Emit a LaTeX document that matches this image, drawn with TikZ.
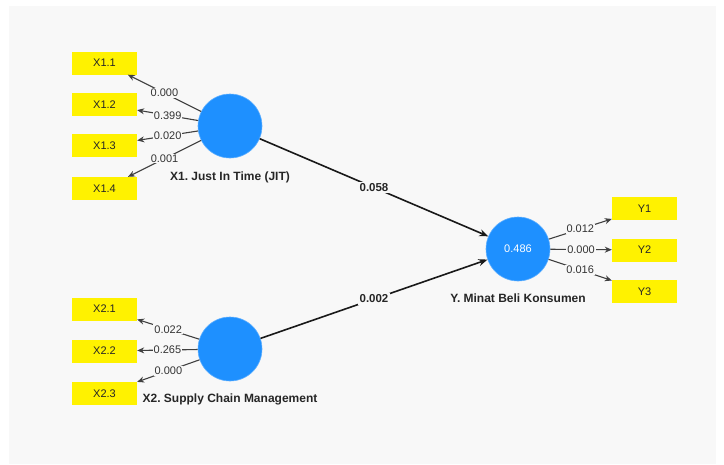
\documentclass[tikz,border=0pt]{standalone}
\usepackage{fontspec}
\setmainfont{Liberation Sans}
\usetikzlibrary{arrows.meta}
\definecolor{panel}{HTML}{F8F8F8}
\definecolor{lv}{HTML}{1E90FF}
\frenchspacing
\begin{document}
\begin{tikzpicture}[x=1pt,y=-1pt,
 lvnode/.style={circle,fill=lv,draw=lv!70!white,line width=0.6pt,minimum size=64pt,inner sep=0pt},
 ind/.style={fill=yellow,minimum width=65pt,minimum height=23pt,inner sep=0pt,font=\fontsize{11}{13}\selectfont,text=black!85},
 load/.style={draw=black!75,line width=1.1pt,-{Stealth[length=7pt,width=6pt]}},
 loadlbl/.style={fill=panel,inner sep=1pt,font=\fontsize{11}{13}\selectfont,text=black!80,midway},
 pathline/.style={draw=black!90,line width=1.6pt,-{Stealth[length=9pt,width=7pt]}},
 pathlbl/.style={fill=panel,inner sep=1.5pt,font=\bfseries\fontsize{11.5}{13}\selectfont,text=black!85,midway},
 lvlbl/.style={font=\bfseries\fontsize{12}{14}\selectfont,text=black!85}]
\useasboundingbox (0,0) rectangle (724,464);
\fill[white] (0,0) rectangle (724,464);
\fill[panel] (9,6) rectangle (716,464);
% latent variables
\node[lvnode] (x1) at (230,126) {};
\node[lvnode] (x2) at (230,349) {};
\node[lvnode,text=white,font=\fontsize{11}{13}\selectfont] (y) at (518,249) {0.486};
\node[lvlbl] (x1l) at (230,177) {X1. Just In Time (JIT)};
\node[lvlbl] (x2l) at (230,399) {X2. Supply Chain Management};
\node[lvlbl] (yl) at (518,298) {Y. Minat Beli Konsumen};
% indicators
\node[ind] (x11) at (104.5,63) {X1.1};
\node[ind] (x12) at (104.5,104.5) {X1.2};
\node[ind] (x13) at (104.5,145.5) {X1.3};
\node[ind] (x14) at (104.5,188.5) {X1.4};
\node[ind] (x21) at (104.5,309) {X2.1};
\node[ind] (x22) at (104.5,351) {X2.2};
\node[ind] (x23) at (104.5,393.5) {X2.3};
\node[ind] (y1) at (644.5,208.5) {Y1};
\node[ind] (y2) at (644.5,250) {Y2};
\node[ind] (y3) at (644.5,291.5) {Y3};
% loadings
\draw[load] (x1) -- node[loadlbl]{0.000} (x11);
\draw[load] (x1) -- node[loadlbl]{0.399} (x12);
\draw[load] (x1) -- node[loadlbl]{0.020} (x13);
\draw[load] (x1) -- node[loadlbl]{0.001} (x14);
\draw[load] (x2) -- node[loadlbl]{0.022} (x21);
\draw[load] (x2) -- node[loadlbl]{0.265} (x22);
\draw[load] (x2) -- node[loadlbl]{0.000} (x23);
\draw[load] (y) -- node[loadlbl]{0.012} (y1);
\draw[load] (y) -- node[loadlbl]{0.000} (y2);
\draw[load] (y) -- node[loadlbl]{0.016} (y3);
% paths
\draw[pathline] (x1) -- node[pathlbl]{0.058} (y);
\draw[pathline] (x2) -- node[pathlbl]{0.002} (y);
\end{tikzpicture}
\end{document}
